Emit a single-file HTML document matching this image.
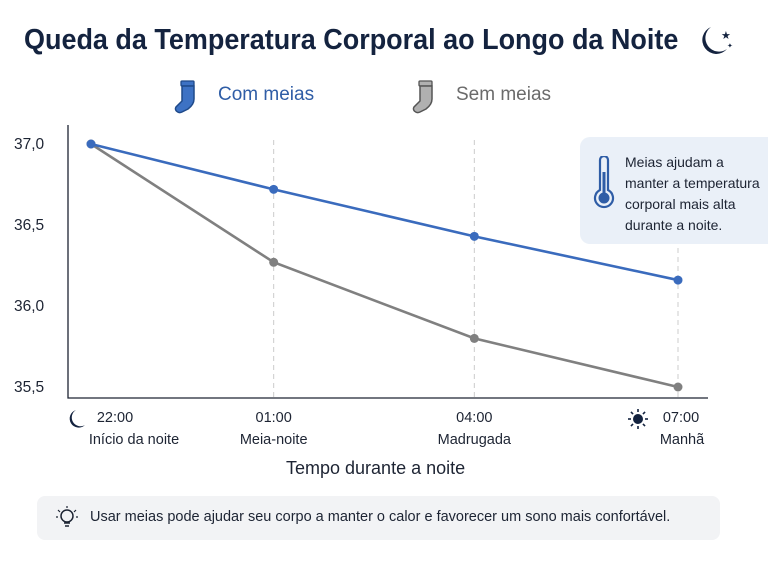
<!DOCTYPE html>
<html><head><meta charset="utf-8">
<style>
body{margin:0;width:768px;height:562px;background:#fff;font-family:"Liberation Sans",sans-serif;overflow:hidden;position:relative}
.t{position:absolute;white-space:nowrap}
</style></head><body>
<div class="t" style="left:24px;top:24px;font-size:29px;font-weight:bold;color:#14233f;transform:scaleX(0.93);transform-origin:left">Queda da Temperatura Corporal ao Longo da Noite</div>
<svg style="position:absolute;left:694px;top:24px" width="42" height="36"><path d="M17 3 A14 14 0 1 0 33 25 A12 12 0 0 1 17 3Z" fill="#14233f"/><text x="27" y="15" font-size="11" fill="#14233f">★</text><text x="33" y="24" font-size="7" fill="#14233f">✦</text></svg>
<svg style="position:absolute;left:172px;top:80px" width="30" height="34"><rect x="9" y="1" width="13" height="5" rx="1" fill="#3d72c4" stroke="#1f4a8a" stroke-width="1.3"/><path d="M10 6h12v13c0 4-2 7-6 10l-6 3c-4 2-8-2-6-5l6-6z" fill="#3d72c4" stroke="#1f4a8a" stroke-width="1.5"/></svg>
<div class="t" style="left:218px;top:84px;font-size:19px;color:#2f5da6">Com meias</div>
<svg style="position:absolute;left:410px;top:80px" width="30" height="34"><rect x="9" y="1" width="13" height="5" rx="1" fill="#b0b0b0" stroke="#555" stroke-width="1.3"/><path d="M10 6h12v13c0 4-2 7-6 10l-6 3c-4 2-8-2-6-5l6-6z" fill="#b0b0b0" stroke="#555" stroke-width="1.5"/></svg>
<div class="t" style="left:456px;top:84px;font-size:19px;color:#6b6b6b">Sem meias</div>
<svg id="chart" style="position:absolute;left:0;top:0" width="768" height="562"></svg>
<div style="position:absolute;left:580px;top:137px;width:200px;height:107px;background:#eaf0f8;border-radius:10px"></div>
<svg style="position:absolute;left:592px;top:156px" width="24" height="54"><path d="M8 4a4 4 0 0 1 8 0v30a9 9 0 1 1-8 0z" fill="none" stroke="#2f5da6" stroke-width="2.2"/><rect x="10.5" y="16" width="3" height="22" fill="#2f5da6"/><circle cx="12" cy="42" r="5.5" fill="#2f5da6"/></svg>
<div class="t" style="left:625px;top:152px;font-size:14px;line-height:21px;color:#1d2433">Meias ajudam a<br>manter a temperatura<br>corporal mais alta<br>durante a noite.</div>
<div class="t" style="left:286px;top:458px;font-size:18px;color:#1d2433">Tempo durante a noite</div>
<div style="position:absolute;left:37px;top:496px;width:683px;height:44px;background:#f2f3f5;border-radius:8px"></div>
<svg style="position:absolute;left:56px;top:506px" width="22" height="24"><circle cx="11" cy="10" r="6" fill="none" stroke="#1d2433" stroke-width="1.5"/><path d="M8 17h6M9 20h4" stroke="#1d2433" stroke-width="1.5"/><path d="M11 0v2M2 4l2 2M20 4l-2 2M0 11h2M20 11h2" stroke="#1d2433" stroke-width="1.2"/></svg>
<div class="t" style="left:90px;top:509px;font-size:14.5px;color:#1d2433">Usar meias pode ajudar seu corpo a manter o calor e favorecer um sono mais confortável.</div>
<script>
const categories=["22:00","01:00","04:00","07:00"];
const subLabels=["Início da noite","Meia-noite","Madrugada","Manhã"];
const comMeias=[37.0,36.72,36.43,36.16];
const semMeias=[37.0,36.27,35.8,35.5];
const yTicks=[37.0,36.5,36.0,35.5];
const NS="http://www.w3.org/2000/svg";
const svg=document.getElementById("chart");
function x(i){return 91+i*((678-91)/3)+(i==1?-13:i==2?-8:0);}
function y(v){return 144+(37.0-v)*162;}
function mk(tag,attrs,parent){const e=document.createElementNS(NS,tag);for(const k in attrs)e.setAttribute(k,attrs[k]);(parent||svg).appendChild(e);return e;}
categories.forEach((c,i)=>{
  if(i>0){const g=mk("line",{x1:x(i),x2:x(i),y1:140,y2:398,stroke:"#ccc","stroke-dasharray":"5,4"});
  
  }
  const t=mk("text",{x:x(i)+(i==0?24:i==3?3:0),y:422,"text-anchor":"middle","font-size":"14.5",fill:"#1d2433"});t.textContent=c;
  
  
  const s=mk("text",{x:x(i)+(i==0?43:i==3?4:0),y:444,"text-anchor":"middle","font-size":"14.5",fill:"#1d2433"});s.textContent=subLabels[i];
  
  
});
yTicks.forEach(v=>{const t=mk("text",{x:14,y:y(v)+5,"font-size":"15.5",fill:"#1d2433"});t.textContent=v.toFixed(1).replace(".",",");
  
  });
const ax=mk("path",{d:"M68 125V398H708",fill:"none",stroke:"#1d2433","stroke-width":"1.3"});


const moon=mk("path",{d:"M76 410a9 9 0 1 0 9 15a8 8 0 0 1-9-15z",fill:"#14233f"});


const sun=mk("g",{});


mk("circle",{cx:638,cy:419,r:5,fill:"#14233f"},sun);
for(let k=0;k<8;k++){const a=k*Math.PI/4;mk("line",{x1:638+7*Math.cos(a),y1:419+7*Math.sin(a),x2:638+10*Math.cos(a),y2:419+10*Math.sin(a),stroke:"#14233f","stroke-width":"1.6"},sun);}
function series(data,col,name){
  const p=mk("polyline",{points:data.map((v,i)=>x(i)+","+y(v)).join(" "),fill:"none",stroke:col,"stroke-width":"2.6"});
  
  
  data.forEach((v,i)=>{const c=mk("circle",{cx:x(i),cy:y(v),r:4.5,fill:col});
    
    });
}
series(semMeias,"#808080","sem-meias");
series(comMeias,"#3a6bbd","com-meias");
</script>
</body></html>
